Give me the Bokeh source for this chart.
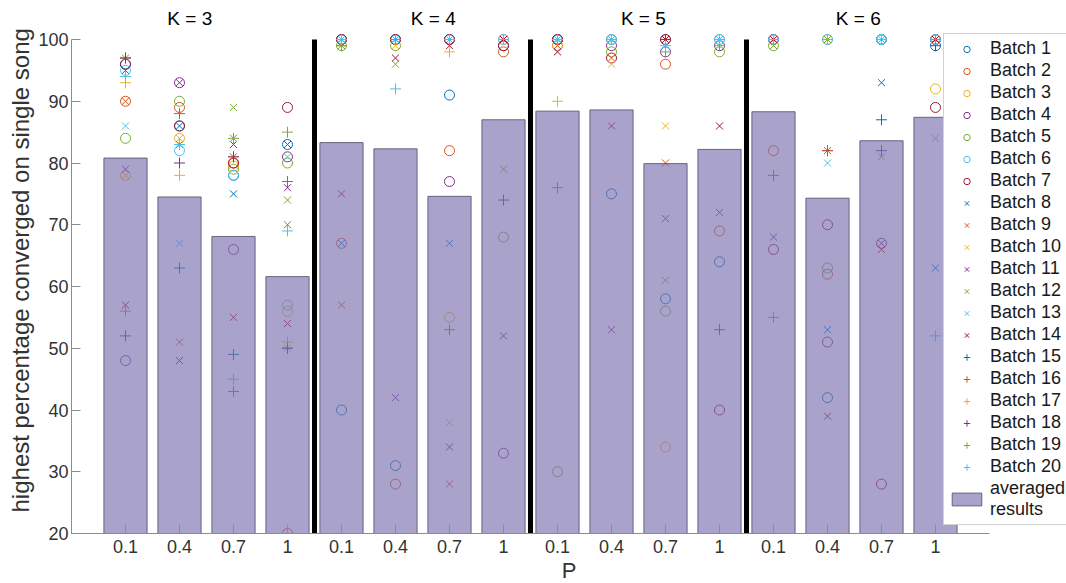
from bokeh.plotting import figure
from bokeh.models import Range1d, FixedTicker, Legend, LegendItem
from bokeh.core.properties import value
from bokeh.embed import file_html
from bokeh.resources import INLINE

# ---- data -------------------------------------------------------------
p_labels = ["0.1", "0.4", "0.7", "1"]
k_titles = ["K = 3", "K = 4", "K = 5", "K = 6"]
k_title_x = [2.19, 6.7, 10.59, 14.57]

# averaged results for the 16 (K, P) settings
averaged = [80.8, 74.5, 68.1, 61.6, 83.3, 82.3, 74.6, 87.0,
            88.4, 88.6, 79.9, 82.2, 88.3, 74.3, 83.6, 87.4]

# per-batch results, one value per (K, P) setting
batch_01 = [96, 86, 78, 83, 40, 31, 91, 99, 100, 75, 58, 64, 100, 42, 100, 99]
batch_02 = [90, 89, 80, 20, 67, 28, 82, 98, 99, 100, 96, 69, 82, 62, 100, 100]
batch_03 = [78, 84, 79.5, 56, 100, 100, 55, 100, 99, 100, 34, 100, 100, 100, 100, 92]
batch_04 = [48, 93, 66, 81, 100, 100, 77, 33, 100, 99, 98, 99, 100, 51, 67, 100]
batch_05 = [84, 90, 79, 80, 99, 99, 100, 68, 30, 98, 56, 98, 99, 63, 100, 100]
batch_06 = [95, 82, 78, 57, 100, 100, 100, 100, 100, 100, 100, 100, 100, 100, 100, 100]
batch_07 = [96, 86, 80, 89, 100, 100, 100, 99, 100, 97, 100, 40, 66, 70, 28, 89]
batch_08 = [95, 86, 75, 83, 67, 100, 67, 100, 100, 100, 71, 100, 100, 53, 93, 63]
batch_09 = [90, 51, 81, 70, 57, 100, 28, 100, 99, 97, 80, 100, 100, 82, 100, 100]
batch_10 = [78, 84, 84, 50, 100, 99, 38, 100, 100, 96, 86, 100, 100, 100, 100, 100]
batch_11 = [79, 93, 83, 76, 100, 42, 34, 52, 100, 53, 100, 72, 68, 100, 67, 100]
batch_12 = [97, 83, 89, 74, 99, 96, 100, 79, 100, 100, 61, 100, 99, 100, 81, 100]
batch_13 = [86, 67, 84, 81, 100, 100, 100, 100, 100, 100, 99, 100, 100, 80, 100, 84]
batch_14 = [57, 48, 55, 54, 75, 97, 99, 100, 98, 86, 100, 86, 100, 39, 66, 100]
batch_15 = [52, 63, 49, 50, 100, 100, 100, 100, 100, 100, 100, 53, 100, 82, 87, 100]
batch_16 = [97, 88, 43, 77, 99, 100, 53, 100, 76, 100, 100, 100, 78, 82, 100, 100]
batch_17 = [93, 78, 81, 51, 100, 100, 98, 100, 90, 100, 100, 100, 100, 100, 100, 100]
batch_18 = [97, 80, 81, 50, 100, 100, 100, 74, 100, 100, 100, 100, 100, 100, 82, 99]
batch_19 = [56, 83, 84, 85, 99, 100, 100, 100, 100, 100, 98, 99, 55, 100, 100, 100]
batch_20 = [94, 83, 45, 69, 100, 92, 100, 100, 100, 100, 99, 100, 100, 100, 100, 52]

batches = [batch_01, batch_02, batch_03, batch_04, batch_05, batch_06, batch_07,
           batch_08, batch_09, batch_10, batch_11, batch_12, batch_13, batch_14,
           batch_15, batch_16, batch_17, batch_18, batch_19, batch_20]

# ---- styling ----------------------------------------------------------
FONT = "Liberation Sans"
palette = ["#0072BD", "#D95319", "#EDB120", "#7E2F8E", "#77AC30", "#4DBEEE", "#A2142F"]
markers = ["circle"] * 7 + ["x"] * 7 + ["cross"] * 6
marker_size = {"circle": 10, "x": 10, "cross": 11}

n = len(averaged)
xs = list(range(1, n + 1))

PX_PER_X = 54.0
PX_PER_Y = 6.175
FRAME_W, FRAME_H = 995, 533

p = figure(width=1066, height=583, frame_width=FRAME_W, frame_height=FRAME_H,
           x_range=Range1d(0, FRAME_W / PX_PER_X),
           y_range=Range1d(20, 20 + FRAME_H / PX_PER_Y),
           output_backend="svg", toolbar_location=None,
           min_border_left=71, min_border_right=0, min_border_top=0, min_border_bottom=50)
p.outline_line_color = None
p.grid.visible = False
p.background_fill_color = "white"
p.border_fill_color = "white"

# scatter of every batch
items = []
for i, vals in enumerate(batches):
    m = markers[i]
    r = p.scatter(xs, vals, marker=m, size=marker_size[m],
                  line_color=palette[i % 7], fill_color=None, line_width=1)
    items.append(LegendItem(label=f"Batch {i + 1}", renderers=[r]))

# averaged bars laid over the points
bars = p.vbar(x=xs, top=averaged, bottom=0, width=0.8,
              fill_color="#7B72B1", fill_alpha=0.65,
              line_color="#55526e", line_alpha=0.85, line_width=1)
items.append(LegendItem(label="averaged\nresults", renderers=[bars]))

# separators between K groups
sep_x = [4.5, 8.5, 12.5]
p.segment(x0=sep_x, y0=[20] * 3, x1=sep_x, y1=[100] * 3,
          line_color="black", line_width=5)

# group titles
p.text(x=k_title_x, y=[103.4] * 4, text=k_titles,
       text_font=value(FONT), text_font_size="19px", text_color="black",
       text_align="center", text_baseline="middle")

# axes
ax_col = "#8c8c8c"
lab_col = "#333333"
xa = p.xaxis[0]
xa.ticker = FixedTicker(ticks=xs)
xa.major_label_overrides = {x: p_labels[(x - 1) % 4] for x in xs}
xa.bounds = (0, 17)
xa.axis_label = "P"
ya = p.yaxis[0]
ya.ticker = FixedTicker(ticks=list(range(20, 101, 10)))
ya.bounds = (20, 100)
ya.axis_label = "highest percentage  converged on single song"
for ax in (xa, ya):
    ax.axis_line_color = ax_col
    ax.major_tick_line_color = ax_col
    ax.minor_tick_line_color = None
    ax.major_tick_in = 9
    ax.major_tick_out = 0
    ax.major_label_text_font = FONT
    ax.major_label_text_font_size = "18px"
    ax.major_label_text_color = lab_col
    ax.axis_label_text_font = FONT
    ax.axis_label_text_font_size = "22px"
    ax.axis_label_text_font_style = "normal"
    ax.axis_label_text_color = lab_col
ya.axis_label_text_font_size = "24px"
xa.major_label_standoff = 6
xa.axis_label_standoff = 2
ya.major_label_standoff = 3
ya.axis_label_standoff = 1

# legend anchored by its bottom-left corner inside the frame
legend = Legend(items=items, location=(872, 8),
                label_text_font=FONT, label_text_font_size="18px",
                label_text_color="#1a1a1a", label_text_line_height=1.0,
                glyph_width=37, glyph_height=16, label_standoff=5,
                label_height=18, spacing=1, padding=4, margin=0,
                border_line_color="#a6a6a6", border_line_width=1,
                background_fill_color="white", background_fill_alpha=1.0)
p.add_layout(legend)

open("out.html", "w").write(file_html(p, INLINE))
